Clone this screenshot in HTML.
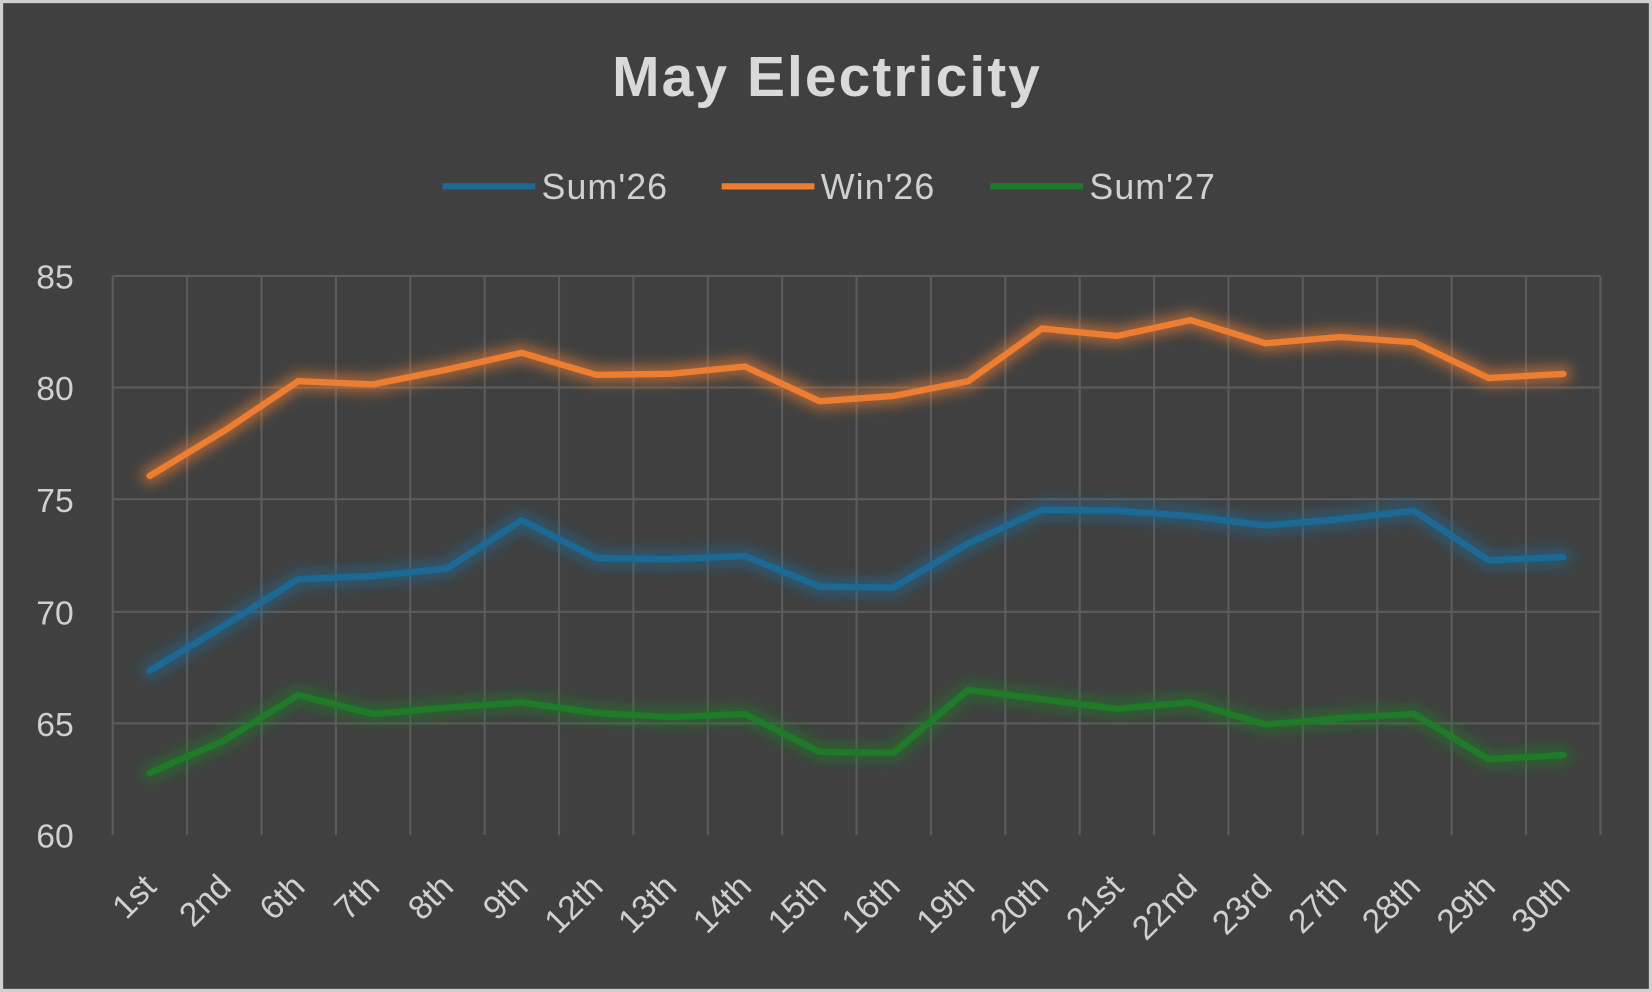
<!DOCTYPE html>
<html><head><meta charset="utf-8"><style>
html,body{margin:0;padding:0;background:#fff;}
svg{display:block;}
text{font-family:"Liberation Sans",sans-serif;}
</style></head><body>
<svg width="1652" height="992" viewBox="0 0 1568 942" preserveAspectRatio="none" xmlns="http://www.w3.org/2000/svg">
<defs>
<filter id="g" x="-10%" y="-50%" width="120%" height="200%"><feGaussianBlur stdDeviation="6"/></filter>
</defs>
<rect x="0" y="0" width="1568" height="942" fill="#d0d0d0"/>
<rect x="3" y="3" width="1562" height="936" fill="#404040"/>
<text x="785" y="91" text-anchor="middle" font-size="54" font-weight="bold" letter-spacing="2" fill="#d9d9d9">May Electricity</text>
<g font-size="34" fill="#d0d0d0" letter-spacing="1">
<line x1="420" y1="177" x2="508" y2="177" stroke="#1d6995" stroke-width="6"/>
<text x="514" y="189">Sum'26</text>
<line x1="685" y1="177" x2="773" y2="177" stroke="#ed7d31" stroke-width="6"/>
<text x="779" y="189">Win'26</text>
<line x1="940" y1="177" x2="1028" y2="177" stroke="#1f7a2a" stroke-width="6"/>
<text x="1034" y="189">Sum'27</text>
</g>
<g stroke="#5c5c5c" stroke-width="2">
<line x1="107" y1="262" x2="1519" y2="262"/><line x1="107" y1="368" x2="1519" y2="368"/>
<line x1="107" y1="474" x2="1519" y2="474"/><line x1="107" y1="581" x2="1519" y2="581"/>
<line x1="107" y1="687" x2="1519" y2="687"/>
<line x1="107" y1="262" x2="107" y2="793"/><line x1="177.6" y1="262" x2="177.6" y2="793"/><line x1="248.2" y1="262" x2="248.2" y2="793"/><line x1="318.8" y1="262" x2="318.8" y2="793"/><line x1="389.4" y1="262" x2="389.4" y2="793"/><line x1="460" y1="262" x2="460" y2="793"/><line x1="530.6" y1="262" x2="530.6" y2="793"/><line x1="601.2" y1="262" x2="601.2" y2="793"/><line x1="671.8" y1="262" x2="671.8" y2="793"/><line x1="742.4" y1="262" x2="742.4" y2="793"/><line x1="813" y1="262" x2="813" y2="793"/><line x1="883.6" y1="262" x2="883.6" y2="793"/><line x1="954.2" y1="262" x2="954.2" y2="793"/><line x1="1024.8" y1="262" x2="1024.8" y2="793"/><line x1="1095.4" y1="262" x2="1095.4" y2="793"/><line x1="1166" y1="262" x2="1166" y2="793"/><line x1="1236.6" y1="262" x2="1236.6" y2="793"/><line x1="1307.2" y1="262" x2="1307.2" y2="793"/><line x1="1377.8" y1="262" x2="1377.8" y2="793"/><line x1="1448.4" y1="262" x2="1448.4" y2="793"/><line x1="1519" y1="262" x2="1519" y2="793"/>
</g>
<g font-size="32" fill="#d0d0d0" text-anchor="end">
<text x="70" y="274">85</text><text x="70" y="380">80</text><text x="70" y="486">75</text>
<text x="70" y="593">70</text><text x="70" y="699">65</text><text x="70" y="805">60</text>
</g>
<g fill="none" stroke-linejoin="round" stroke-linecap="round">
<polyline filter="url(#g)" stroke="#ed7d31" stroke-opacity="0.6" stroke-width="16" points="142,452 213,409 283,362 354,365 424,351 495,335 566,356 636,355 707,348 778,381 848,376 919,362 989,312 1060,319 1130,304 1201,326 1272,320 1342,325 1413,359 1484,355"/>
<polyline filter="url(#g)" stroke="#1d6995" stroke-opacity="0.6" stroke-width="16" points="142,637 213,594 283,550 354,547 424,540 495,494 566,530 636,531 707,528 778,557 848,558 919,516 989,484 1060,485 1130,490 1201,499 1272,493 1342,485 1413,532 1484,529"/>
<polyline filter="url(#g)" stroke="#1f7a2a" stroke-opacity="0.6" stroke-width="16" points="142,734 213,703 283,660 354,678 424,672 495,667 566,677 636,681 707,678 778,714 848,715 919,655 989,664 1060,673 1130,667 1201,688 1272,682 1342,678 1413,721 1484,717"/>
<polyline stroke="#ed7d31" stroke-width="6" points="142,452 213,409 283,362 354,365 424,351 495,335 566,356 636,355 707,348 778,381 848,376 919,362 989,312 1060,319 1130,304 1201,326 1272,320 1342,325 1413,359 1484,355"/>
<polyline stroke="#1d6995" stroke-width="6" points="142,637 213,594 283,550 354,547 424,540 495,494 566,530 636,531 707,528 778,557 848,558 919,516 989,484 1060,485 1130,490 1201,499 1272,493 1342,485 1413,532 1484,529"/>
<polyline stroke="#1f7a2a" stroke-width="6" points="142,734 213,703 283,660 354,678 424,672 495,667 566,677 636,681 707,678 778,714 848,715 919,655 989,664 1060,673 1130,667 1201,688 1272,682 1342,678 1413,721 1484,717"/>
</g>
<g font-size="32" fill="#d0d0d0" text-anchor="end">
<text transform="translate(150,844) rotate(-45)">1st</text>
<text transform="translate(221,844) rotate(-45)">2nd</text>
<text transform="translate(291,844) rotate(-45)">6th</text>
<text transform="translate(362,844) rotate(-45)">7th</text>
<text transform="translate(432,844) rotate(-45)">8th</text>
<text transform="translate(503,844) rotate(-45)">9th</text>
<text transform="translate(574,844) rotate(-45)">12th</text>
<text transform="translate(644,844) rotate(-45)">13th</text>
<text transform="translate(715,844) rotate(-45)">14th</text>
<text transform="translate(786,844) rotate(-45)">15th</text>
<text transform="translate(856,844) rotate(-45)">16th</text>
<text transform="translate(927,844) rotate(-45)">19th</text>
<text transform="translate(997,844) rotate(-45)">20th</text>
<text transform="translate(1068,844) rotate(-45)">21st</text>
<text transform="translate(1138,844) rotate(-45)">22nd</text>
<text transform="translate(1209,844) rotate(-45)">23rd</text>
<text transform="translate(1280,844) rotate(-45)">27th</text>
<text transform="translate(1350,844) rotate(-45)">28th</text>
<text transform="translate(1421,844) rotate(-45)">29th</text>
<text transform="translate(1492,844) rotate(-45)">30th</text>
</g>
</svg>
</body></html>
